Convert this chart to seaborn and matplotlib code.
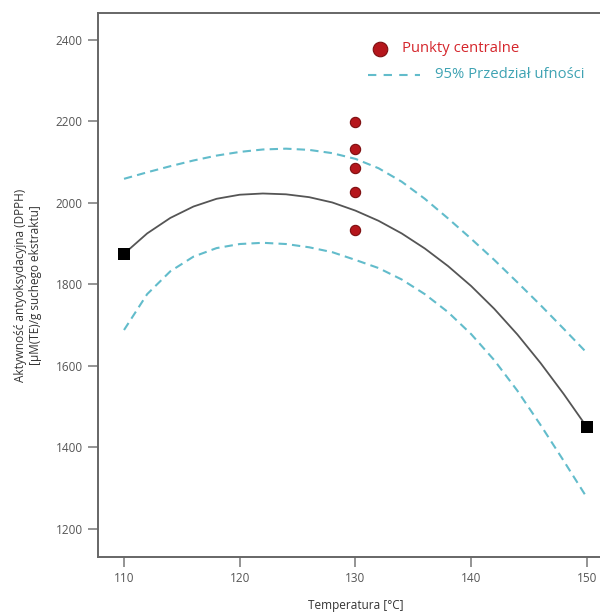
import matplotlib
matplotlib.use("Agg")
import matplotlib.pyplot as plt
import seaborn as sns
import pandas as pd

# Temperature grid for the fitted response and its confidence band
temperature = [110, 112, 114, 116, 118, 120, 122, 124, 126, 128, 130,
               132, 134, 136, 138, 140, 142, 144, 146, 148, 150]
fitted = [1875, 1925, 1963, 1991, 2010, 2020, 2023, 2021, 2014, 2001, 1981,
          1956, 1925, 1888, 1845, 1796, 1740, 1677, 1607, 1531, 1450]
ci_upper = [2059, 2075, 2090, 2104, 2116, 2125, 2131, 2133, 2130, 2122, 2108,
            2085, 2052, 2010, 1962, 1912, 1860, 1805, 1749, 1691, 1632]
ci_lower = [1688, 1776, 1832, 1868, 1889, 1899, 1902, 1899, 1891, 1879, 1860,
            1840, 1812, 1776, 1732, 1678, 1614, 1539, 1455, 1367, 1277]

# Design points at the ends of the temperature range
design_temp = [110, 150]
design_value = [1875, 1450]

# Replicated central points
center_temp = [130, 130, 130, 130, 130]
center_value = [2199, 2133, 2086, 2027, 1934]

x_ticks = [110, 120, 130, 140, 150]
y_ticks = [1200, 1400, 1600, 1800, 2000, 2200, 2400]

legend_center = "Punkty centralne"
legend_ci = "95% Przedział ufności"
x_label = "Temperatura [°C]"
y_label = "Aktywność antyoksydacyjna (DPPH)\n[µM(TE)/g suchego ekstraktu]"

sns.set_style("white")
plt.rcParams["font.family"] = ["Open Sans", "DejaVu Sans"]

curve = pd.DataFrame({"T": temperature, "fit": fitted,
                      "upper": ci_upper, "lower": ci_lower})

fig = plt.figure(figsize=(6.0, 6.12), dpi=100)
ax = fig.add_axes([0.1633, 0.0899, 0.8583, 0.8889])

ci_color = "#62bccb"
dash = (0, (4, 2.5))

sns.lineplot(data=curve, x="T", y="upper", ax=ax, color=ci_color,
             linewidth=1.5, linestyle=dash, estimator=None)
sns.lineplot(data=curve, x="T", y="lower", ax=ax, color=ci_color,
             linewidth=1.5, linestyle=dash, estimator=None)
sns.lineplot(data=curve, x="T", y="fit", ax=ax, color="#555555",
             linewidth=1.3, estimator=None)

sns.scatterplot(x=design_temp, y=design_value, ax=ax, marker="s", s=80,
                color="black", edgecolor="black", linewidth=0, zorder=5)
sns.scatterplot(x=center_temp, y=center_value, ax=ax, marker="o", s=55,
                color="#b5161c", edgecolor="#7d0e10", linewidth=0.8, zorder=5)

ax.set_xlim(107.75, 152.26)
ax.set_ylim(1131, 2466)
ax.set_xticks(x_ticks)
ax.set_yticks(y_ticks)

for side in ("left", "bottom", "top"):
    ax.spines[side].set_color("#666666")
    ax.spines[side].set_linewidth(1.4)
ax.spines["right"].set_visible(False)

ax.tick_params(axis="both", direction="out", length=7, width=1.1,
               color="#777777", labelcolor="#555555", labelsize=8.5, pad=4)
ax.tick_params(left=True, bottom=True)

ax.set_xlabel(x_label, fontsize=8.5, color="#333333", labelpad=10)
ax.set_ylabel(y_label, fontsize=8.5, color="#333333", labelpad=10)

# Legend keys drawn in axes coordinates
ax.scatter([0.5476], [0.9338], s=110, color="#b5161c", edgecolor="#7d0e10",
           linewidth=0.8, transform=ax.transAxes, clip_on=False, zorder=6)
ax.text(0.5903, 0.9338, legend_center, transform=ax.transAxes,
        color="#d5262c", fontsize=10.7, va="center", ha="left")
ax.plot([0.5243, 0.6252], [0.886, 0.886], transform=ax.transAxes,
        color=ci_color, linewidth=1.5, linestyle=(0, (4, 3.5)))
ax.text(0.6544, 0.886, legend_ci, transform=ax.transAxes,
        color="#3fa3b3", fontsize=10.7, va="center", ha="left")

fig.savefig("out.png", dpi=100)
